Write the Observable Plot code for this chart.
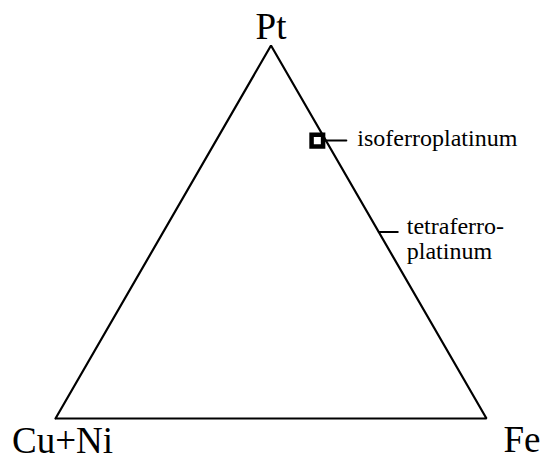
<!DOCTYPE html>
<html>
<head>
<meta charset="utf-8">
<script src="https://cdn.jsdelivr.net/npm/d3@7"></script>
<script src="https://cdn.jsdelivr.net/npm/@observablehq/plot@0.6"></script>
<style>
  html, body { margin: 0; padding: 0; background: #fff; font-family: 'Liberation Serif', serif; }
</style>
</head>
<body>
<div id="chart"></div>
<script>
// Ternary end-members (compositions as fractions)
const vertexNames = ["Cu+Ni", "Fe", "Pt"];
const vertexCuNi = [1, 0, 0];
const vertexFe = [0, 1, 0];
const vertexPt = [0, 0, 1];

// Mineral compositions
const mineralNames = ["isoferroplatinum", "tetraferroplatinum"];
const mineralLabels = ["isoferroplatinum", "tetraferro-\nplatinum"];
const mineralPt = [0.745, 0.5];
const mineralFe = [0.235, 0.5];
const mineralCuNi = [0.02, 0];

const H = Math.sqrt(3) / 2;
const tx = (pt, fe) => fe + pt / 2;
const ty = (pt) => pt * H;

const vertices = vertexNames.map((name, i) => ({
  name, x: tx(vertexPt[i], vertexFe[i]), y: ty(vertexPt[i])
}));
const outline = [...vertices, vertices[0]];
const minerals = mineralNames.map((name, i) => ({
  name, label: mineralLabels[i],
  x: tx(mineralPt[i], mineralFe[i]), y: ty(mineralPt[i])
}));
const iso = minerals.filter(d => d.name === "isoferroplatinum");
const tetra = minerals.filter(d => d.name === "tetraferroplatinum");

const lineShape = { draw(context, l) { context.moveTo(0, 0); context.lineTo(0, -l); } };

const chart = Plot.plot({
  width: 541,
  height: 456,
  marginLeft: 55,
  marginRight: 55,
  marginTop: 45,
  marginBottom: 38,
  x: { axis: null, domain: [0, 1] },
  y: { axis: null, domain: [0, H] },
  marks: [
    Plot.line(outline, { x: "x", y: "y", stroke: "#000", strokeWidth: 2.2, strokeLinejoin: "miter" }),
    // vertex labels
    Plot.text(vertices.filter(d => d.name === "Pt"), { x: "x", y: "y", text: "name", fontSize: 37, fill: "#000", textAnchor: "middle", lineAnchor: "bottom", dy: -7 }),
    Plot.text(vertices.filter(d => d.name === "Cu+Ni"), { x: "x", y: "y", text: "name", fontSize: 37, fill: "#000", textAnchor: "middle", lineAnchor: "bottom", dx: 7, dy: 34 }),
    Plot.text(vertices.filter(d => d.name === "Fe"), { x: "x", y: "y", text: "name", fontSize: 37, fill: "#000", textAnchor: "start", lineAnchor: "bottom", dx: 17, dy: 33 }),
    // isoferroplatinum
    Plot.vector(iso, { x: "x", y: "y", length: 23, rotate: 90, anchor: "start", shape: lineShape, stroke: "#000", strokeWidth: 2, dx: 6 }),
    Plot.dot(iso, { x: "x", y: "y", symbol: "square", r: 6.5, fill: "#fff", stroke: "#000", strokeWidth: 4.5 }),
    Plot.text(iso, { x: "x", y: "y", text: "label", fontSize: 24, fill: "#000", textAnchor: "start", lineAnchor: "middle", dx: 40, dy: -2 }),
    // tetraferroplatinum
    Plot.vector(tetra, { x: "x", y: "y", length: 19, rotate: 90, anchor: "start", shape: lineShape, stroke: "#000", strokeWidth: 2 }),
    Plot.text(tetra, { x: "x", y: "y", text: "label", fontSize: 24, fill: "#000", textAnchor: "start", lineAnchor: "top", lineHeight: 1.05, dx: 28, dy: -16 })
  ]
});
chart.style.fontFamily = "'Liberation Serif', serif";
chart.style.background = "#fff";
d3.select(chart).selectAll("g[aria-label='text'], text")
  .attr("font-family", "'Liberation Serif', serif")
  .style("font-family", "'Liberation Serif', serif");
document.getElementById("chart").appendChild(chart);
</script>
</body>
</html>
